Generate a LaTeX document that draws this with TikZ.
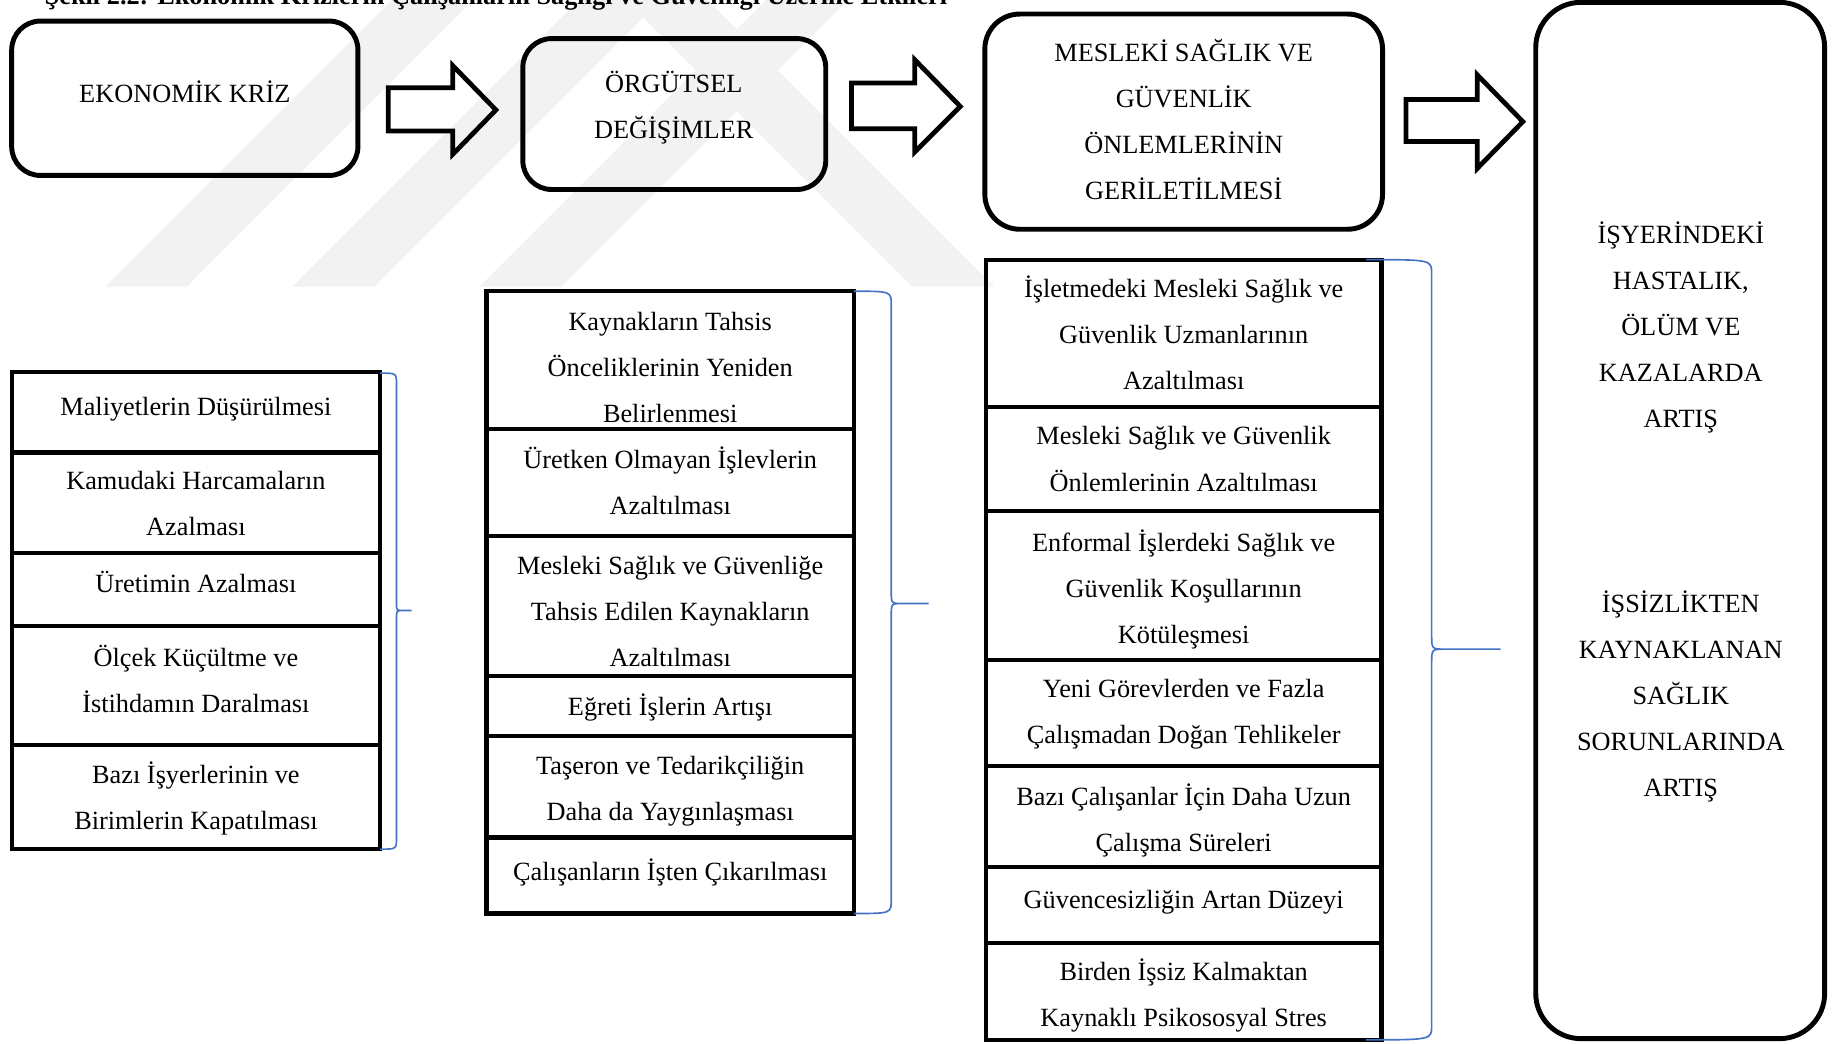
\documentclass[tikz,border=0pt]{standalone}
\usepackage{fontspec}
\setmainfont{Liberation Serif}
\usetikzlibrary{fit}
\definecolor{braceblue}{RGB}{68,114,196}
\newcommand\mytxt[4]{\node[txt, anchor=north] (#1) at (#2,{#3-13}) {\rule{0pt}{12pt}#4};}
\newcommand\mybrace[8]{%
  \draw[brace] (#1,#4) .. controls (#2,#4) .. (#2,{#4+#7}) -- (#2,{#5-#8})
    .. controls (#2,#5) .. ({#2+#8},#5) -- (#3,#5)
    ({#2+#8},#5) .. controls (#2,#5) .. (#2,{#5+#8}) -- (#2,{#6-#7})
    .. controls (#2,#6) .. (#1,#6);}
\begin{document}
\begin{tikzpicture}[x=0.02cm, y=-0.02cm,
  topbox/.style={draw, line width=2.4pt, rounded corners=14pt, inner sep=0pt},
  cellbox/.style={draw, line width=2.1pt, inner sep=0pt},
  txt/.style={inner sep=0pt, align=center, font=\fontsize{12.8}{22.4}\selectfont},
  blockarrow/.style={draw, line width=2.3pt, line join=miter},
  brace/.style={draw=braceblue, line width=0.8pt},
  wm/.style={fill=black!5}
]
\useasboundingbox (0,0) rectangle (1568,892);
% watermark
\fill[wm] (90,245) -- (160,245) -- (410,-5) -- (340,-5) -- cycle;
\fill[wm] (250,245) -- (320,245) -- (570,-5) -- (500,-5) -- cycle;
\fill[wm] (410,245) -- (480,245) -- (730,-5) -- (660,-5) -- cycle;
\fill[wm] (780,245) -- (850,245) -- (600,-5) -- (530,-5) -- cycle;
% title
\node[font=\bfseries\fontsize{12.8}{15}\selectfont, anchor=base, inner sep=0pt] (title) at (424,4)
  {Şekil 2.2: Ekonomik Krizlerin Çalışanların Sağlığı ve Güvenliği Üzerine Etkileri};
% top boxes
\node[topbox, fit={(10,18) (306,150)}] (b1) {};
\node[topbox, fit={(447,33) (706,162)}] (b2) {};
\node[topbox, rounded corners=17pt, fit={(842,12) (1182,196)}] (b3) {};
\node[topbox, rounded corners=22pt, fit={(1313,2) (1560,888)}] (b4) {};
\mytxt{t1}{158}{79}{EKONOMİK KRİZ}
\mytxt{t2}{576}{71}{ÖRGÜTSEL\\DEĞİŞİMLER}
\mytxt{t3}{1012}{44}{MESLEKİ SAĞLIK VE\\GÜVENLİK\\ÖNLEMLERİNİN\\GERİLETİLMESİ}
\mytxt{t4a}{1437}{200}{İŞYERİNDEKİ\\HASTALIK,\\ÖLÜM VE\\KAZALARDA\\ARTIŞ}
\mytxt{t4b}{1437}{515}{İŞSİZLİKTEN\\KAYNAKLANAN\\SAĞLIK\\SORUNLARINDA\\ARTIŞ}
% block arrows
\draw[blockarrow] (332,75) -- (387,75) -- (387,56) -- (424,94) -- (387,132) -- (387,112) -- (332,112) -- cycle;
\draw[blockarrow] (728,71) -- (782,71) -- (782,51) -- (821,91) -- (782,130) -- (782,110) -- (728,110) -- cycle;
\draw[blockarrow] (1202,85) -- (1263,85) -- (1263,64) -- (1302,104) -- (1263,144) -- (1263,121) -- (1202,121) -- cycle;
% column 1
\node[cellbox, fit={(10,318) (325,387)}] (c1a) {};
\node[cellbox, fit={(10,387) (325,473)}] (c1b) {};
\node[cellbox, fit={(10,473) (325,535)}] (c1c) {};
\node[cellbox, fit={(10,535) (325,637)}] (c1d) {};
\node[cellbox, fit={(10,637) (325,726)}] (c1e) {};
\mytxt{s1a}{167.5}{347}{Maliyetlerin Düşürülmesi}
\mytxt{s1b}{167.5}{410}{Kamudaki Harcamaların\\Azalması}
\mytxt{s1c}{167.5}{498}{Üretimin Azalması}
\mytxt{s1d}{167.5}{561}{Ölçek Küçültme ve\\İstihdamın Daralması}
\mytxt{s1e}{167.5}{661}{Bazı İşyerlerinin ve\\Birimlerin Kapatılması}
% column 2
\node[cellbox, fit={(416,249) (730,367)}] (c2a) {};
\node[cellbox, fit={(416,367) (730,458)}] (c2b) {};
\node[cellbox, fit={(416,458) (730,578)}] (c2c) {};
\node[cellbox, fit={(416,578) (730,629)}] (c2d) {};
\node[cellbox, fit={(416,629) (730,716)}] (c2e) {};
\node[cellbox, fit={(416,716) (730,781)}] (c2f) {};
\mytxt{s2a}{573}{274}{Kaynakların Tahsis\\Önceliklerinin Yeniden\\Belirlenmesi}
\mytxt{s2b}{573}{392}{Üretken Olmayan İşlevlerin\\Azaltılması}
\mytxt{s2c}{573}{483}{Mesleki Sağlık ve Güvenliğe\\Tahsis Edilen Kaynakların\\Azaltılması}
\mytxt{s2d}{573}{603}{Eğreti İşlerin Artışı}
\mytxt{s2e}{573}{654}{Taşeron ve Tedarikçiliğin\\Daha da Yaygınlaşması}
\mytxt{s2f}{573}{744}{Çalışanların İşten Çıkarılması}
% column 3
\node[cellbox, fit={(843,222) (1181,348)}] (c3a) {};
\node[cellbox, fit={(843,348) (1181,437)}] (c3b) {};
\node[cellbox, fit={(843,437) (1181,564)}] (c3c) {};
\node[cellbox, fit={(843,564) (1181,655)}] (c3d) {};
\node[cellbox, fit={(843,655) (1181,741)}] (c3e) {};
\node[cellbox, fit={(843,741) (1181,806)}] (c3f) {};
\node[cellbox, fit={(843,806) (1181,889)}] (c3g) {};
\mytxt{s3a}{1012}{246}{İşletmedeki Mesleki Sağlık ve\\Güvenlik Uzmanlarının\\Azaltılması}
\mytxt{s3b}{1012}{372}{Mesleki Sağlık ve Güvenlik\\Önlemlerinin Azaltılması}
\mytxt{s3c}{1012}{463}{Enformal İşlerdeki Sağlık ve\\Güvenlik Koşullarının\\Kötüleşmesi}
\mytxt{s3d}{1012}{588}{Yeni Görevlerden ve Fazla\\Çalışmadan Doğan Tehlikeler}
\mytxt{s3e}{1012}{680}{Bazı Çalışanlar İçin Daha Uzun\\Çalışma Süreleri}
\mytxt{s3f}{1012}{768}{Güvencesizliğin Artan Düzeyi}
\mytxt{s3g}{1012}{830}{Birden İşsiz Kalmaktan\\Kaynaklı Psikososyal Stres}
% braces
\mybrace{325}{339}{352}{319}{522}{726}{10}{6}
\mybrace{730}{762}{794}{249}{516}{781}{12}{10}
\mybrace{1168}{1224}{1283}{222}{555}{889}{12}{12}
\end{tikzpicture}
\end{document}
